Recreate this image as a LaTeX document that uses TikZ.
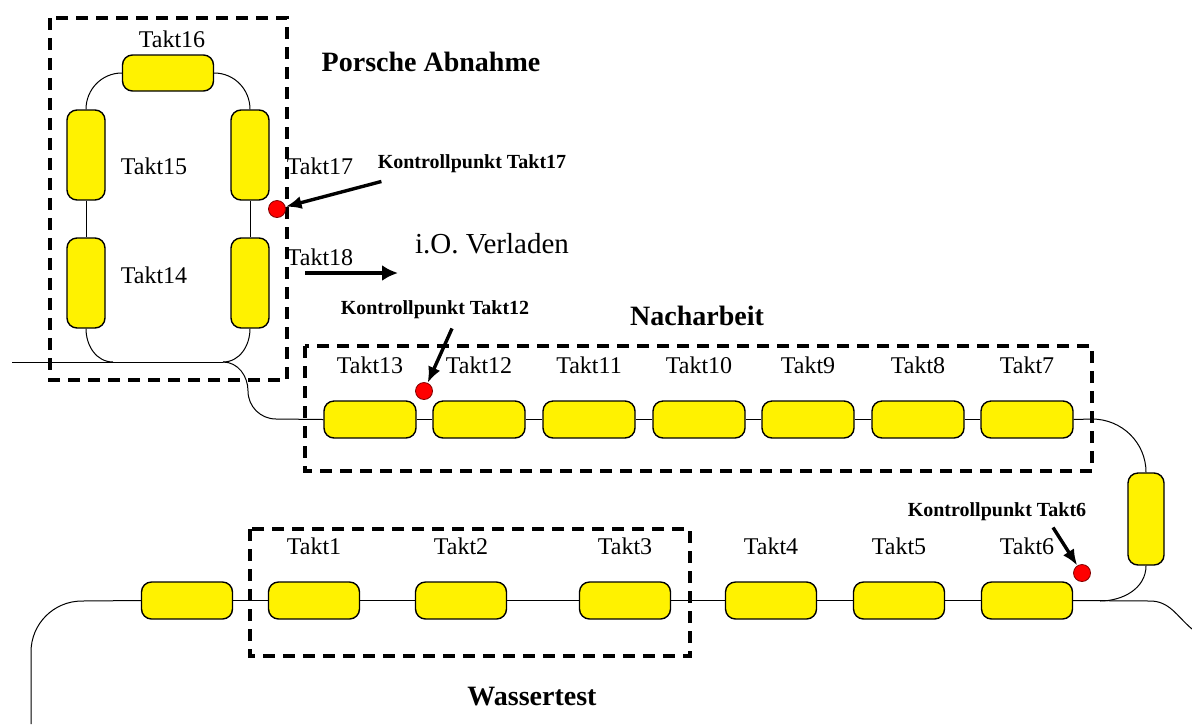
\documentclass[tikz,border=0pt]{standalone}
\usepackage{fontspec}
\setmainfont{Liberation Serif}
\usetikzlibrary{positioning,arrows.meta}

\newcommand{\taktfont}{\fontsize{12pt}{14pt}\selectfont}
\newcommand{\headfont}{\fontsize{14pt}{16pt}\selectfont\bfseries}
\newcommand{\verlfont}{\fontsize{14.5pt}{16pt}\selectfont}
\newcommand{\kpfont}{\fontsize{10pt}{12pt}\selectfont\bfseries}

\begin{document}
\begin{tikzpicture}[x=0.5pt,y=-0.5pt,
  takt/.style={draw,fill=yellow,line width=0.7pt,rounded corners=5pt,inner sep=0pt,
    minimum width=46pt,minimum height=18.5pt},
  taktv/.style={takt,minimum width=19pt,minimum height=45pt},
  lbl/.style={font=\taktfont,inner sep=0pt},
  head/.style={font=\headfont,inner sep=0pt},
  kp/.style={font=\kpfont,inner sep=0pt},
  dot/.style={circle,draw=red!50!black,fill=red,line width=0.4pt,inner sep=0pt,minimum size=8.5pt},
  track/.style={line width=0.5pt},
  zone/.style={line width=2pt,dash pattern=on 6pt off 4pt},
  pointer/.style={line width=1.7pt,-{Latex[length=8pt,width=6.5pt]}},
  label distance=12.9pt, every label/.style={lbl}]
  \useasboundingbox (0,0) rectangle (1192,724);

  % Porsche Abnahme loop
  \node[takt,minimum width=45.5pt,minimum height=18pt] (t16) at (168,73) {};
  \node[taktv] (t15) at (86,155) {};
  \node[taktv] (t14) at (86,283) {};
  \node[taktv] (t17) at (250,155) {};
  \node[taktv] (t18) at (250,283) {};
  \node[lbl] (l16) at (172,39) {Takt16};
  \node[lbl] (l15) at (154,166) {Takt15};
  \node[lbl] (l14) at (154,275) {Takt14};
  \node[lbl] (l17) at (320,166) {Takt17};
  \node[lbl] (l18) at (320,257) {Takt18};

  % Nacharbeit row
  \node[takt,label=above:Takt13] (t13) at (370,419.5) {};
  \node[takt,label=above:Takt12] (t12) at (479,419.5) {};
  \node[takt,label=above:Takt11] (t11) at (589,419.5) {};
  \node[takt,label=above:Takt10] (t10) at (699,419.5) {};
  \node[takt,label=above:Takt9] (t9) at (808,419.5) {};
  \node[takt,label=above:Takt8] (t8) at (918,419.5) {};
  \node[takt,label=above:Takt7] (t7) at (1027,419.5) {};
  \node[taktv,minimum width=18pt,minimum height=46pt] (tv) at (1146,519) {};

  % Wassertest row
  \node[takt,minimum width=45.5pt] (t0) at (187,600.5) {};
  \node[takt,minimum width=45.5pt,label=above:Takt1] (t1) at (314,600.5) {};
  \node[takt,minimum width=45.5pt,label=above:Takt2] (t2) at (461,600.5) {};
  \node[takt,minimum width=45.5pt,label=above:Takt3] (t3) at (625,600.5) {};
  \node[takt,minimum width=45.5pt,label=above:Takt4] (t4) at (771,600.5) {};
  \node[takt,minimum width=45.5pt,label=above:Takt5] (t5) at (899,600.5) {};
  \node[takt,minimum width=45.5pt,label=above:Takt6] (t6) at (1027,600.5) {};

  % track
  \coordinate (a0) at (12,362);
  \coordinate (a1) at (113,362);
  \coordinate (a2) at (223,362);
  \coordinate (a3) at (248,391);
  \coordinate (a4) at (276,419);
  \coordinate (b0) at (1092,419);
  \coordinate (c0) at (1100,601);
  \coordinate (c1) at (1150,601);
  \coordinate (c2) at (1192,629);
  \coordinate (d0) at (82,601);
  \coordinate (d1) at (31,652);
  \coordinate (d2) at (31,724);
  \draw[track] (t16.west) to[out=180,in=90] (t15.north);
  \draw[track] (t16.east) to[out=0,in=90] (t17.north);
  \draw[track] (t15) -- (t14);
  \draw[track] (t17) -- (t18);
  \draw[track] (a0) -- (a2);
  \draw[track] (t14.south) to[out=-90,in=180] (a1);
  \draw[track] (t18.south) to[out=-90,in=0] (a2);
  \draw[track] (a2) to[out=0,in=90] (a3) to[out=-90,in=180] (a4) -- (t13.west);
  \draw[track] (t13) -- (t12) -- (t11) -- (t10) -- (t9) -- (t8) -- (t7);
  \draw[track] (t7.east) -- (b0) to[out=0,in=90] (tv.north);
  \draw[track] (tv.south) to[out=-90,in=0] (c0);
  \draw[track] (t0) -- (t1) -- (t2) -- (t3) -- (t4) -- (t5) -- (t6);
  \draw[track] (t6.east) -- (c1) to[out=0,in=140] (c2);
  \draw[track] (t0.west) -- (d0) to[out=180,in=90] (d1) -- (d2);

  % zones
  \draw[zone] (50,18) rectangle (287,380);
  \draw[zone] (305,346) rectangle (1092,471);
  \draw[zone] (250,529) rectangle (690,656);
  \node[head] (pa) at (431,62) {Porsche Abnahme};
  \node[head] (na) at (697,316) {Nacharbeit};
  \node[head] (wt) at (532,697) {Wassertest};
  \node[font=\verlfont,inner sep=0pt] (io) at (492,244) {i.O. Verladen};

  % Kontrollpunkte
  \node[dot] (k17) at (277,209) {};
  \node[dot] (k12) at (424,391) {};
  \node[dot] (k6) at (1082,573) {};
  \node[kp] (kl17) at (472,164) {Kontrollpunkt Takt17};
  \node[kp] (kl12) at (435,310) {Kontrollpunkt Takt12};
  \node[kp] (kl6) at (997,512) {Kontrollpunkt Takt6};
  \draw[pointer] ([xshift=2pt,yshift=-4pt]kl17.south west) -- (k17);
  \draw[pointer] ([xshift=8.5pt,yshift=-4.5pt]kl12.south) -- (k12);
  \draw[pointer] ([xshift=28pt,yshift=-3pt]kl6.south) -- (k6);

  % Verladen
  \coordinate (e0) at (305,273);
  \coordinate (e1) at (398,273);
  \draw[line width=2.4pt,-{Latex[length=8pt,width=8pt]}] (e0) -- (e1);
\end{tikzpicture}
\end{document}
